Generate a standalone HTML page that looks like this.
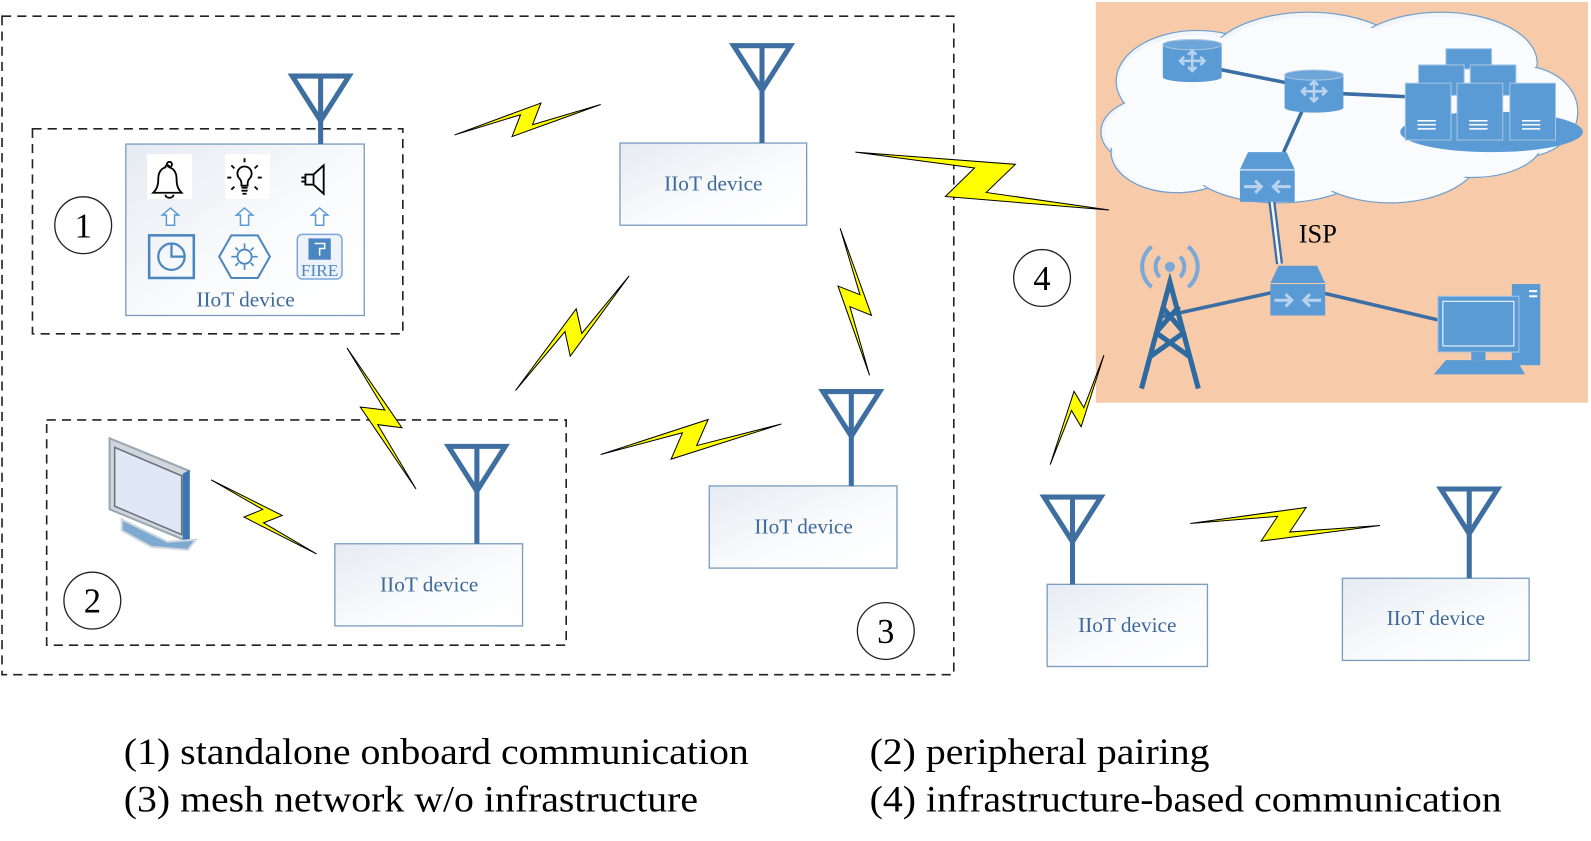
<!DOCTYPE html>
<html><head><meta charset="utf-8"><style>
html,body{margin:0;padding:0;background:#fff;overflow:hidden}
svg{display:block}
.sf{font-family:"Liberation Serif","Times New Roman",serif}
</style></head><body>
<svg id="s" width="1591" height="841" viewBox="0 0 1568 829" preserveAspectRatio="none" xmlns="http://www.w3.org/2000/svg">
<defs>
<linearGradient id="bx" x1="0" y1="0" x2="1" y2="1"><stop offset="0" stop-color="#e6ebf2"/><stop offset="0.6" stop-color="#fbfcfd"/><stop offset="1" stop-color="#ffffff"/></linearGradient>
<linearGradient id="cl" x1="0" y1="0" x2="1" y2="1"><stop offset="0" stop-color="#eef2f9"/><stop offset="1" stop-color="#ffffff"/></linearGradient>
</defs>
<rect x="1080" y="2" width="485" height="395" fill="#f7cbaa"/>
<g fill="url(#cl)" stroke="#6e9fcf" stroke-width="1.2">
<ellipse cx="1180" cy="80" rx="80" ry="50"/>
<ellipse cx="1290" cy="62" rx="100" ry="50"/>
<ellipse cx="1420" cy="62" rx="95" ry="50"/>
<ellipse cx="1500" cy="110" rx="55" ry="45"/>
<ellipse cx="1140" cy="130" rx="55" ry="35"/>
<ellipse cx="1160" cy="150" rx="65" ry="40"/>
<ellipse cx="1260" cy="160" rx="90" ry="40"/>
<ellipse cx="1370" cy="150" rx="90" ry="50"/>
<ellipse cx="1450" cy="140" rx="70" ry="35"/>
</g>
<g fill="#fafbfd" stroke="none">
<ellipse cx="1180" cy="82" rx="78" ry="47"/>
<ellipse cx="1290" cy="64" rx="98" ry="47"/>
<ellipse cx="1420" cy="64" rx="93" ry="47"/>
<ellipse cx="1500" cy="110" rx="53" ry="43"/>
<ellipse cx="1142" cy="130" rx="53" ry="33"/>
<ellipse cx="1160" cy="148" rx="63" ry="38"/>
<ellipse cx="1260" cy="158" rx="88" ry="38"/>
<ellipse cx="1370" cy="148" rx="88" ry="48"/>
<ellipse cx="1450" cy="140" rx="68" ry="33"/>
<rect x="1150" y="90" width="340" height="70"/>
</g>
<g stroke="#3a6ea5" stroke-width="3.5">
<line x1="1200" y1="68" x2="1270" y2="82"/>
<line x1="1315" y1="92" x2="1400" y2="96"/>
<line x1="1283" y1="110" x2="1265" y2="150"/>
<line x1="1146" y1="312" x2="1260" y2="287"/>
<line x1="1296" y1="287" x2="1420" y2="316"/>
</g>
<line x1="1253" y1="195" x2="1261" y2="260" stroke="#3a6ea5" stroke-width="7"/>
<line x1="1253" y1="195" x2="1261" y2="260" stroke="#f4f6f9" stroke-width="2.5"/>
<ellipse cx="1470" cy="130" rx="90" ry="20" fill="#5b9bd5"/>
<g fill="#5b9bd5" stroke="#a9c6e5" stroke-width="1">
<rect x="1425" y="48" width="45" height="20"/>
<rect x="1398" y="64" width="45" height="30"/><rect x="1449" y="64" width="45" height="30"/>
<rect x="1385" y="82" width="45" height="56"/><rect x="1436" y="82" width="45" height="56"/><rect x="1488" y="82" width="45" height="56"/>
</g>
<g stroke="#fff" stroke-width="1.5"><path d="M1397 119h18M1397 123h18M1397 127h18M1448 119h18M1448 123h18M1448 127h18M1500 119h18M1500 123h18M1500 127h18"/></g>
<g><rect x="1146" y="44" width="58" height="32" fill="#5b9bd5"/><ellipse cx="1175" cy="44" rx="29" ry="5" fill="#6ea6da" stroke="#a9c6e5"/><ellipse cx="1175" cy="76" rx="29" ry="5" fill="#5b9bd5"/>
<path d="M1175 50v20M1163 60h24M1171 54l4-4 4 4M1171 66l4 4 4-4M1167 56l-4 4 4 4M1183 56l4 4-4 4" stroke="#b9d3ee" stroke-width="2.5" fill="none"/></g>
<g><rect x="1266" y="74" width="58" height="32" fill="#5b9bd5"/><ellipse cx="1295" cy="74" rx="29" ry="5" fill="#6ea6da" stroke="#a9c6e5"/><ellipse cx="1295" cy="106" rx="29" ry="5" fill="#5b9bd5"/>
<path d="M1295 80v20M1283 90h24M1291 84l4-4 4 4M1291 96l4 4 4-4M1287 86l-4 4 4 4M1303 86l4 4-4 4" stroke="#b9d3ee" stroke-width="2.5" fill="none"/></g>
<g fill="#5b9bd5">
<path d="M1230 150h38l8 17h-54z"/><rect x="1222" y="168" width="54" height="31"/>
<path d="M1260 262h38l8 17h-54z"/><rect x="1252" y="280" width="54" height="31"/>
</g>
<g stroke="#b9d3ee" stroke-width="3" fill="none"><path d="M1226 184h16M1272 184h-16M1237 178l6 6-6 6M1261 178l-6 6 6 6M1256 296h16M1302 296h-16M1267 290l6 6-6 6M1291 290l-6 6 6 6"/></g>
<text x="1280" y="239" class="sf" font-size="26">ISP</text>
<g stroke="#2c6aa0" stroke-width="5" fill="none">
<path d="M1125 383L1153 278L1181 383M1133 352L1168 327M1173 352L1138 327M1140 327L1162 302M1166 327L1145 302"/>
</g>
<circle cx="1153" cy="263" r="5" fill="#7aa8d8"/>
<g stroke="#7aa8d8" stroke-width="4" fill="none"><path d="M1143 253a14 14 0 0 0 0 20M1163 253a14 14 0 0 1 0 20M1135 243a26 26 0 0 0 0 40M1171 243a26 26 0 0 1 0 40"/></g>
<g fill="#5b9bd5"><rect x="1490" y="280" width="28" height="80"/><rect x="1417" y="292" width="80" height="55" stroke="#a9c6e5"/><rect x="1450" y="347" width="14" height="8"/><path d="M1425 355h70l8 14h-90z"/></g>
<rect x="1422" y="297" width="70" height="44" fill="none" stroke="#fff" stroke-width="1"/>
<path d="M1507 287h8M1507 292h8" stroke="#fff" stroke-width="2"/>
<g fill="none" stroke="#222" stroke-width="1.6" stroke-dasharray="9 6">
<rect x="2" y="16" width="938" height="649"/>
<rect x="32" y="127" width="365" height="202"/>
<rect x="46" y="414" width="512" height="222"/>
</g>
<g fill="url(#bx)" stroke="#7a9cc0" stroke-width="1.3">
<rect x="124" y="142" width="235" height="169"/>
<rect x="611" y="141" width="184" height="81"/>
<rect x="330" y="536" width="185" height="81"/>
<rect x="699" y="479" width="185" height="81"/>
<rect x="1032" y="576" width="158" height="81"/>
<rect x="1323" y="570" width="184" height="81"/>
</g>
<g class="sf" font-size="21" fill="#3e6a9a" text-anchor="middle">
<text x="242" y="302">IIoT device</text>
<text x="703" y="188">IIoT device</text>
<text x="423" y="583">IIoT device</text>
<text x="792" y="526">IIoT device</text>
<text x="1111" y="623">IIoT device</text>
<text x="1415" y="616">IIoT device</text>
</g>
<rect x="145" y="152" width="44" height="44" fill="#fff"/>
<rect x="222" y="152" width="44" height="44" fill="#fff"/>
<g fill="none" stroke="#000" stroke-width="1.8">
<path d="M155 190h24c-4-4-5-8-5-14c0-6-3-10-7-11c0-3-4-3-4 0c-4 1-7 5-7 11c0 6-1 10-5 14z"/>
<circle cx="167" cy="162" r="2.5"/>
<path d="M163 192a4 3 0 0 0 8 0"/>
<path d="M236 176a7 7 0 1 1 10 0c-2 2-2 4-2 7h-6c0-3 0-5-2-7zM238 185h6M238 188h6M239 191h4"/>
<path d="M241 160v-4M231 166l-3-3M251 166l3-3M228 175h-4M254 175h4M231 184l-3 3M251 184l3 3"/>
<path d="M301 172h8v10h-8zM301 175h-4M301 179h-4M309 172l10-9v28l-10-9"/>
</g>
<g fill="#fff" stroke="#5b9bd5" stroke-width="1.5">
<path d="M160 212l8-7 8 7h-4v10h-8v-10z"/><path d="M233 212l8-7 8 7h-4v10h-8v-10z"/><path d="M307 212l8-7 8 7h-4v10h-8v-10z"/>
</g>
<rect x="147" y="232" width="44" height="42" fill="none" stroke="#4a86c0" stroke-width="2.5"/>
<circle cx="169" cy="253" r="13" fill="none" stroke="#4a86c0" stroke-width="2.2"/>
<path d="M169 240v13h13" fill="none" stroke="#4a86c0" stroke-width="2.2"/>
<path d="M228 232h26l12 21-12 21h-26l-12-21z" fill="none" stroke="#4a86c0" stroke-width="2"/>
<circle cx="241" cy="253" r="7" fill="none" stroke="#4a86c0" stroke-width="1.8"/>
<path d="M241 240v5M241 261v5M228 253h5M249 253h5M232 244l3 3M250 262l-3-3M250 244l-3 3M232 262l3-3" stroke="#4a86c0" stroke-width="1.6"/>
<rect x="293" y="231" width="44" height="44" rx="5" fill="#eef3f9" stroke="#7aa8d8" stroke-width="1.5"/>
<rect x="304" y="235" width="22" height="21" fill="#4a86c0"/><path d="M310 240h10v5h-5v7" stroke="#fff" stroke-width="1.5" fill="none"/>
<text x="315" y="272" class="sf" font-size="17" fill="#4a86c0" text-anchor="middle">FIRE</text>
<g id="ants" stroke="#3e6fa0" stroke-width="5" fill="none"></g>
<g>
<path d="M108 432l78 32v70l-78-32z" fill="#cfd6de" stroke="#9aa6b2" stroke-width="2"/>
<path d="M113 441l66 28v58l-66-28z" fill="#dfe8f4" stroke="#6a7280" stroke-width="1.5"/>
<path d="M180 467l7-4v70l-7 4z" fill="#3b76b0"/>
<path d="M120 512l45 22 28 -2 -8 10 -36 -3 -29-16z" fill="#7ea9d0" stroke="#cfd6de" stroke-width="2"/>
</g>
<g fill="#fff" stroke="#222" stroke-width="1.3">
<circle cx="82" cy="222" r="28"/><circle cx="91" cy="592" r="28"/><circle cx="873" cy="622" r="28"/><circle cx="1027" cy="274" r="28"/>
</g>
<g class="sf" font-size="34" text-anchor="middle">
<text x="82" y="234">1</text><text x="91" y="604">2</text><text x="873" y="634">3</text><text x="1027" y="286">4</text>
</g>
<g id="bolts" fill="#ffff00" stroke="#000" stroke-width="1"></g>
<g class="sf" font-size="37">
<text x="122" y="753" textLength="616" lengthAdjust="spacingAndGlyphs">(1) standalone onboard communication</text>
<text x="122" y="800" textLength="566" lengthAdjust="spacingAndGlyphs">(3) mesh network w/o infrastructure</text>
<text x="857" y="753" textLength="335" lengthAdjust="spacingAndGlyphs">(2) peripheral pairing</text>
<text x="857" y="800" textLength="623" lengthAdjust="spacingAndGlyphs">(4) infrastructure-based communication</text>
</g>
</svg>
<script>
var NS="http://www.w3.org/2000/svg";
var ants=[[316,75,142],[751,45,141],[470,440,536],[839,386,479],[1057,490,576],[1448,482,570]];
var ag=document.getElementById("ants");
ants.forEach(function(a){var x=a[0],t=a[1],b=a[2],w=28,h=44;
var p=document.createElementNS(NS,"path");
p.setAttribute("d","M"+(x-w)+" "+t+"H"+(x+w)+"L"+x+" "+(t+h)+"Z M"+x+" "+t+"V"+b);
ag.appendChild(p);});
var bolts=[[448,133,592,103],[843,150,1093,207],[828,225,857,370],[620,272,508,385],[342,343,410,482],[208,473,312,546],[592,448,770,418],[1088,350,1035,458],[1173,516,1360,518]];
var pts=[[0,0],[0.61,-0.107],[0.525,0.046],[1,0],[0.375,0.105],[0.46,-0.05]];
var bg=document.getElementById("bolts");
bolts.forEach(function(b){var dx=b[2]-b[0],dy=b[3]-b[1],L=Math.sqrt(dx*dx+dy*dy);
var ux=dx/L,uy=dy/L,nx=-uy,ny=ux;
var str=pts.map(function(p){var n=p[1]*L*(L>260?260/L:1)*0.85;return (b[0]+ux*p[0]*L+nx*n).toFixed(1)+","+(b[1]+uy*p[0]*L+ny*n).toFixed(1);}).join(" ");
var pg=document.createElementNS(NS,"polygon");pg.setAttribute("points",str);bg.appendChild(pg);});
</script>
</body></html>
